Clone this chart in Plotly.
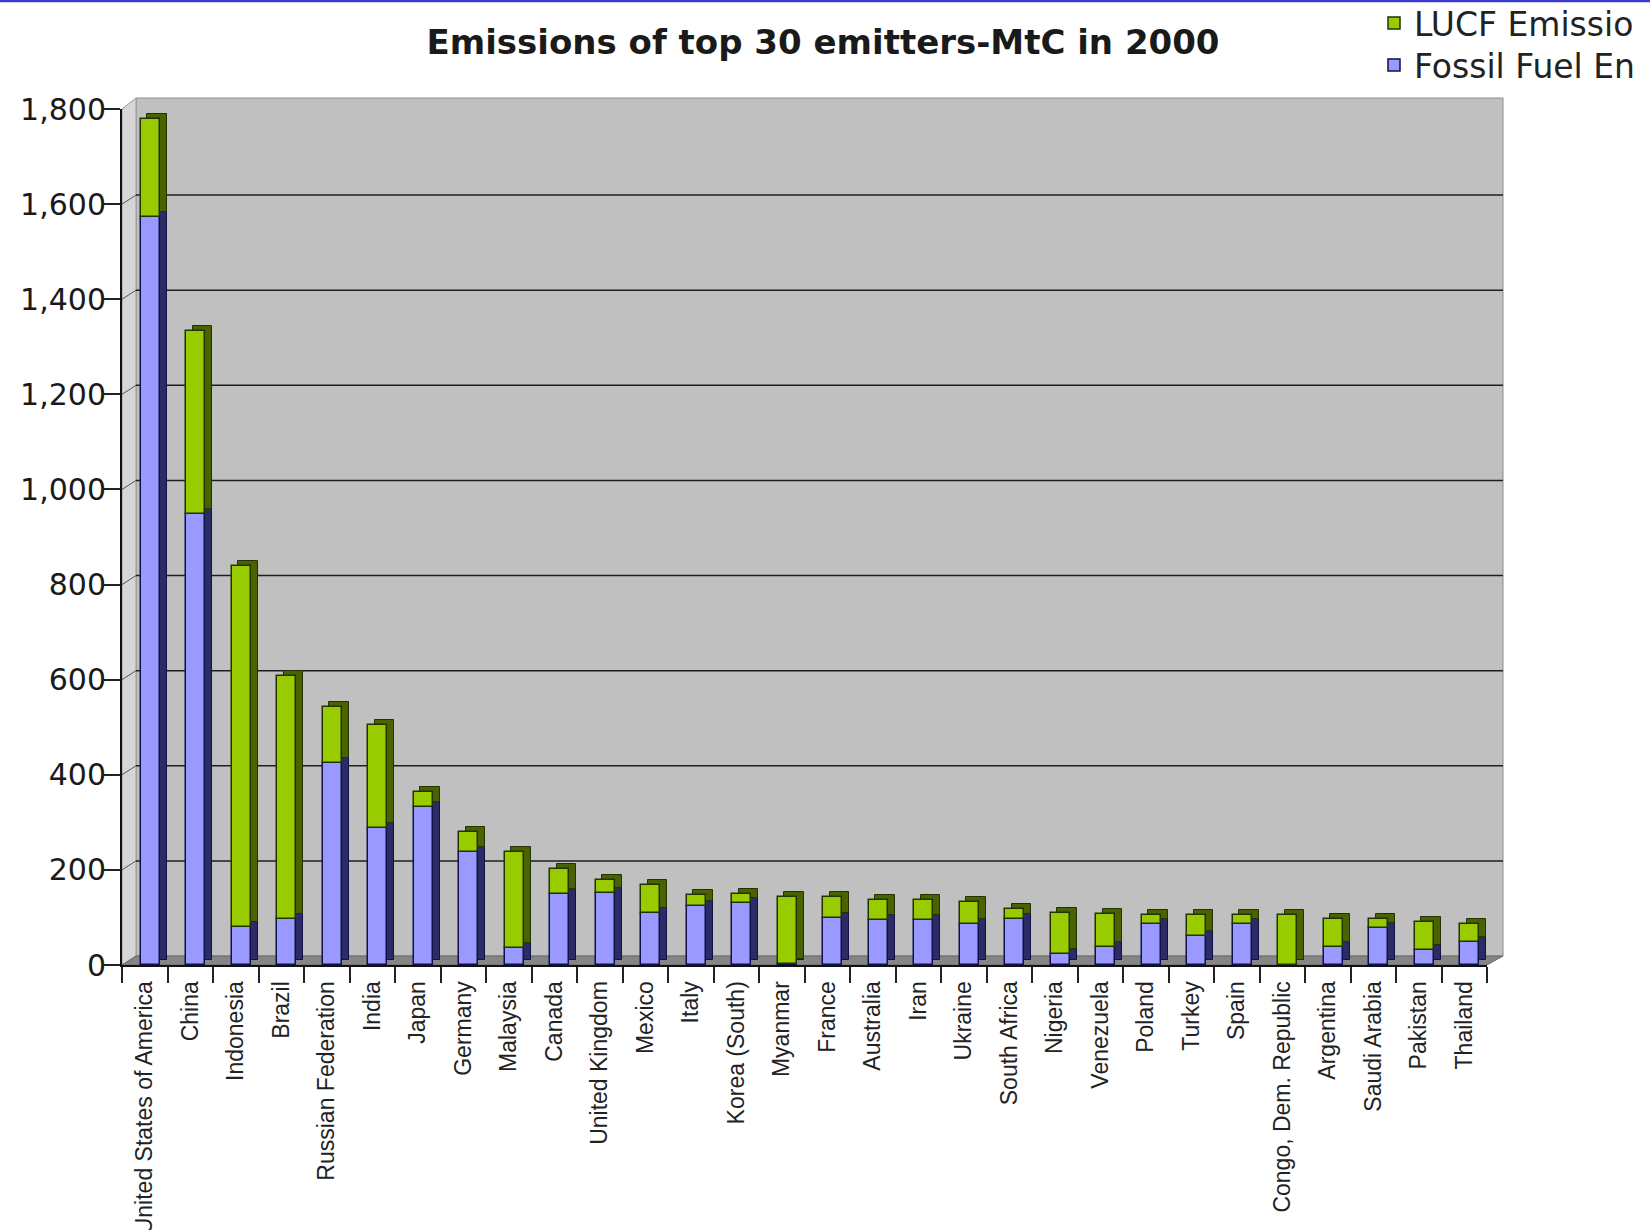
import plotly.graph_objects as go

countries = [
    "United States of America", "China", "Indonesia", "Brazil", "Russian Federation",
    "India", "Japan", "Germany", "Malaysia", "Canada", "United Kingdom", "Mexico",
    "Italy", "Korea (South)", "Myanmar", "France", "Australia", "Iran", "Ukraine",
    "South Africa", "Nigeria", "Venezuela", "Poland", "Turkey", "Spain",
    "Congo, Dem. Republic", "Argentina", "Saudi Arabia", "Pakistan", "Thailand",
]
fossil_fuel = [1572, 948, 80, 96, 424, 288, 332, 237, 35, 149, 152, 110, 124, 131, 3,
               99, 94, 94, 86, 96, 24, 38, 86, 62, 87, 0, 38, 77, 31, 49]
lucf = [208, 386, 758, 511, 118, 217, 31, 42, 202, 53, 27, 59, 23, 19, 139,
        43, 42, 42, 47, 21, 86, 69, 19, 43, 18, 105, 58, 19, 60, 38]
y_ticks = [0, 200, 400, 600, 800, 1000, 1200, 1400, 1600, 1800]

title_text = "Emissions of top 30 emitters-MtC in 2000"
# legend labels exactly as they appear (truncated) in the original chart
lucf_name = "LUCF Emissio"
fossil_name = "Fossil Fuel En"

# ---- layout geometry (pixels) ----
W, H = 1650, 1230
L, R_EDGE = 122, 1487
TOP, BOT = 109, 965
PW, PH = R_EDGE - L, BOT - TOP
YMAX = 1800
DXP, DYP = 14, 9          # 3D depth of walls in pixels
BAR_W, BAR_OFF = 0.42, -0.09
SIDE_DX = 0.15            # side face depth in category units
TOP_DY = 5 * YMAX / PH    # top face depth in data units

def px_x(p):
    return (p - L) / PW

def px_y(p):
    return (BOT - p) / PH

def val_pix(v):
    return BOT - v * PH / YMAX

blue, blue_dark, blue_line = "#9999ff", "#2b2b66", "#10104a"
green, green_dark, green_line = "#99cc00", "#4a6300", "#223300"

fig = go.Figure()
# 3D side/top faces (drawn behind)
fig.add_trace(go.Bar(
    x=countries, y=fossil_fuel, base=[TOP_DY] * len(countries),
    width=BAR_W, offset=BAR_OFF + SIDE_DX,
    marker=dict(color=blue_dark, line=dict(color=blue_line, width=1)),
    showlegend=False, hoverinfo="skip"))
fig.add_trace(go.Bar(
    x=countries, y=lucf, base=[f + TOP_DY for f in fossil_fuel],
    width=BAR_W, offset=BAR_OFF + SIDE_DX,
    marker=dict(color=green_dark, line=dict(color=green_line, width=1)),
    showlegend=False, hoverinfo="skip"))
# front faces
fig.add_trace(go.Bar(
    x=countries, y=fossil_fuel, base=[0] * len(countries),
    width=BAR_W, offset=BAR_OFF, name=fossil_name, legend="legend2",
    marker=dict(color=blue, line=dict(color=blue_line, width=1.5))))
fig.add_trace(go.Bar(
    x=countries, y=lucf, base=fossil_fuel,
    width=BAR_W, offset=BAR_OFF, name=lucf_name, legend="legend",
    marker=dict(color=green, line=dict(color=green_line, width=1.5))))

shapes = []
# back wall
shapes.append(dict(type="rect", xref="paper", yref="paper",
                   x0=px_x(L + DXP), x1=px_x(1503), y0=px_y(BOT - DYP), y1=px_y(TOP - DYP - 2),
                   fillcolor="#c0c0c0", line=dict(color="#8c8c8c", width=1), layer="below"))
# left wall
shapes.append(dict(type="path", xref="paper", yref="paper", layer="below",
                   path=(f"M {px_x(L)},{px_y(TOP)} L {px_x(L + DXP)},{px_y(TOP - DYP - 2)} "
                         f"L {px_x(L + DXP)},{px_y(BOT - DYP)} L {px_x(L)},{px_y(BOT)} Z"),
                   fillcolor="#d6d6d6", line=dict(color="#9a9a9a", width=1)))
# floor
shapes.append(dict(type="path", xref="paper", yref="paper", layer="below",
                   path=(f"M {px_x(L)},{px_y(BOT)} L {px_x(L + DXP)},{px_y(BOT - DYP)} "
                         f"L {px_x(1503)},{px_y(BOT - DYP)} L {px_x(R_EDGE)},{px_y(BOT)} Z"),
                   fillcolor="#858585", line=dict(color="#6a6a6a", width=1)))
# gridlines on back wall + diagonals on left wall
for v in y_ticks[1:-1]:
    yp = val_pix(v)
    shapes.append(dict(type="line", xref="paper", yref="paper", layer="below",
                       x0=px_x(L + DXP), x1=px_x(1503), y0=px_y(yp - DYP), y1=px_y(yp - DYP),
                       line=dict(color="#1e1e1e", width=1.5)))
    shapes.append(dict(type="line", xref="paper", yref="paper", layer="below",
                       x0=px_x(L), x1=px_x(L + DXP), y0=px_y(yp), y1=px_y(yp - DYP),
                       line=dict(color="#555555", width=1)))
# blue line across the top of the slide
shapes.append(dict(type="line", xref="paper", yref="paper", layer="above",
                   x0=px_x(0), x1=px_x(W), y0=px_y(1), y1=px_y(1),
                   line=dict(color="#3a3ad0", width=2.5)))

legend_style = dict(xanchor="left", yanchor="top", bgcolor="rgba(0,0,0,0)", borderwidth=0,
                    font=dict(family="DejaVu Sans", size=33, color="#222222"))

fig.update_layout(
    width=W, height=H,
    margin=dict(l=L, r=W - R_EDGE, t=TOP, b=H - BOT, autoexpand=False),
    paper_bgcolor="white", plot_bgcolor="rgba(0,0,0,0)",
    barmode="overlay", bargap=0,
    shapes=shapes,
    title=dict(text=f"<b>{title_text}</b>", x=px_x(823), xref="paper", xanchor="center",
               y=1 - 42 / H, yref="container", yanchor="middle",
               font=dict(family="DejaVu Sans", size=34, color="#1a1a1a")),
    legend=dict(x=px_x(1374), y=px_y(-5), **legend_style),
    legend2=dict(x=px_x(1374), y=px_y(37), **legend_style),
    xaxis=dict(type="category", showgrid=False, showline=True, linecolor="#111111", linewidth=2,
               ticks="outside", tickson="boundaries", ticklen=16, tickwidth=2, tickcolor="#222222",
               tickangle=-90, range=[-0.5, len(countries) - 0.5], ticklabelstandoff=5,
               tickfont=dict(family="Liberation Sans, Arial", size=23, color="#222222")),
    yaxis=dict(range=[0, YMAX], tickvals=y_ticks, tickformat=",", showgrid=False, zeroline=False,
               showline=True, linecolor="#111111", linewidth=2,
               ticks="outside", ticklen=16, tickwidth=2, tickcolor="#222222",
               ticklabelstandoff=-8,
               tickfont=dict(family="DejaVu Sans", size=30, color="#1a1a1a")),
    font=dict(family="DejaVu Sans"),
)

fig.write_html("out.html")
